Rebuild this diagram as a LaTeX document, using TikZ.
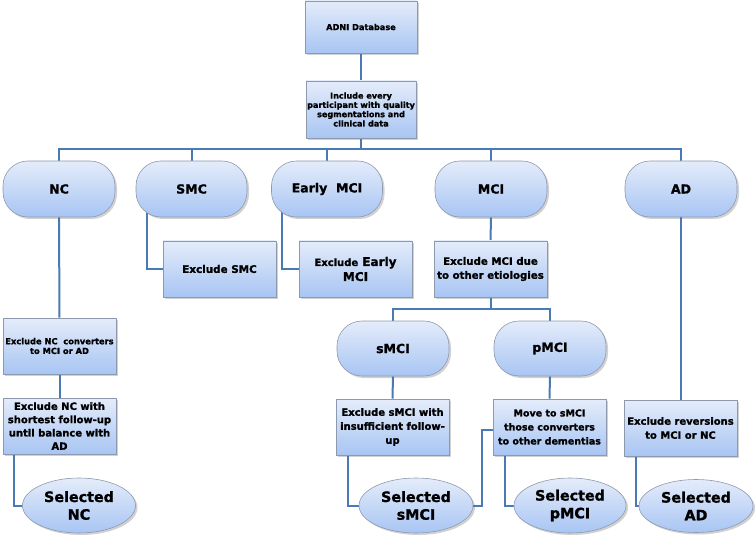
\documentclass[tikz,border=0pt]{standalone}
\usepackage{fontspec}
\setmainfont{DejaVu Sans}[BoldFeatures={FakeBold=1.3}]
\usetikzlibrary{shapes.geometric,shadows,backgrounds}
\definecolor{boxtop}{HTML}{E4ECFA}
\definecolor{boxbot}{HTML}{A8C5F3}
\definecolor{edgecol}{HTML}{8E99AE}
\definecolor{linecol}{HTML}{4A7AB6}
\newcommand{\fs}[2]{\fontsize{#1}{#2}\selectfont}
\tikzset{
  basebox/.style={draw=edgecol, line width=0.6pt, top color=boxtop, bottom color=boxbot,
    align=center, inner sep=1pt,
    drop shadow={shadow xshift=2pt, shadow yshift=-2pt, opacity=0.3, fill=black!60}},
  fsz/.style 2 args={font=\bfseries\fontsize{#1}{#2}\selectfont},
  rectbox/.style={basebox, rectangle, minimum width=113pt, minimum height=56pt},
  pill/.style={basebox, rectangle, rounded corners=25pt, minimum width=112pt, minimum height=56pt, fsz={12.5}{15}},
  selbox/.style={basebox, ellipse, minimum width=113pt, minimum height=55pt, fsz={14.3}{17.7}},
  conn/.style={draw=linecol, line width=2pt}
}
\begin{document}
\begin{tikzpicture}[x=1pt,y=-1pt]
\useasboundingbox (0,0) rectangle (755,540);
% top
\node[rectbox, minimum width=112pt, minimum height=52pt, fsz={8.2}{10}] (adni) at (361,27) {ADNI Database};
\node[rectbox, minimum width=110pt, minimum height=57pt, fsz={8.1}{9.3}] (incl) at (361,109.5) {Include every\\participant with quality\\segmentations and\\clinical data};
% groups
\node[pill] (nc) at (59,189) {NC};
\node[pill, minimum width=111pt] (smc) at (191.5,189) {SMC};
\node[pill, minimum width=111pt] (emci) at (327,189) {Early\ \ MCI};
\node[pill] (mci) at (491,189) {MCI};
\node[pill] (ad) at (681,189) {AD};
% second level
\node[rectbox, fsz={10.4}{14}] (exsmc) at (219.5,269) {Exclude SMC};
\node[rectbox, fsz={12}{15}] (exemci) at (355.5,269) {{\fs{10}{15}Exclude} Early\\MCI};
\node[rectbox, fsz={10.2}{14}] (exmci) at (490.5,269) {Exclude MCI due\\to other etiologies};
% MCI split
\node[pill, minimum height=55pt] (smci) at (393,348.5) {sMCI};
\node[pill, minimum height=55pt] (pmci) at (550,348.5) {pMCI};
\node[rectbox, fsz={10}{14}] (exsmci) at (392.5,427) {Exclude sMCI with\\insufficient follow-\\up};
\node[rectbox, fsz={9.5}{14}] (move) at (549.5,427) {Move to sMCI\\those converters\\to other dementias};
% AD
\node[rectbox, fsz={10}{14}] (exrev) at (680.5,428) {Exclude reversions\\to MCI or NC};
% NC
\node[rectbox, fsz={8.3}{9.7}] (exnc1) at (59.5,346) {Exclude NC\ \ converters\\to MCI or AD};
\node[rectbox, fsz={10}{13.3}] (exnc2) at (59.5,426) {Exclude NC with\\shortest follow-up\\until balance with\\AD};
% selected
\node[selbox] (selnc) at (79,505.5) {Selected\\NC};
\node[selbox, minimum width=114pt] (selsmci) at (416,505.5) {Selected\\sMCI};
\node[selbox, minimum width=112pt] (selpmci) at (570,505.5) {Selected\\pMCI};
\node[selbox, minimum width=114pt, minimum height=53pt] (selad) at (696,506) {Selected\\AD};
\coordinate (b0) at (361,149);
\coordinate (b1) at (490.5,309);
\begin{scope}[on background layer]
\draw[conn] (adni.south) -- (incl.north);
\draw[conn] (incl.south) -- (b0);
\draw[conn] (nc.north) |- (b0) -| (ad.north);
\draw[conn] (smc.north) -- (smc.north |- b0);
\draw[conn] (emci.north) -- (emci.north |- b0);
\draw[conn] (mci.north) -- (mci.north |- b0);
\draw[conn] ([xshift=11pt,yshift=8pt]smc.south west) |- (exsmc.west);
\draw[conn] ([xshift=11pt,yshift=8pt]emci.south west) |- (exemci.west);
\draw[conn] (mci.south) -- (exmci.north);
\draw[conn] (exmci.south) -- (b1);
\draw[conn] (smci.north) |- (b1) -| (pmci.north);
\draw[conn] (smci.south) -- (exsmci.north);
\draw[conn] (pmci.south) -- (move.north);
\draw[conn] ([xshift=12pt]exsmci.south west) |- (selsmci.west);
\draw[conn] ([yshift=-3pt]move.west) -- ++(-11,0) |- (selsmci.east);
\draw[conn] ([xshift=12pt]move.south west) |- (selpmci.west);
\draw[conn] (ad.south) -- (ad.south |- exrev.north);
\draw[conn] ([xshift=12pt]exrev.south west) |- (selad.west);
\draw[conn] (nc.south) -- (exnc1.north);
\draw[conn] (exnc1.south) -- (exnc2.north);
\draw[conn] ([xshift=11pt]exnc2.south west) |- (selnc.west);
\end{scope}
\end{tikzpicture}
\end{document}
